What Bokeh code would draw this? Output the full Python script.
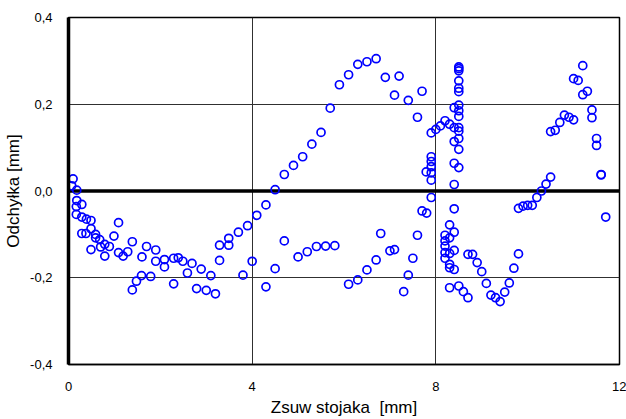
from bokeh.plotting import figure
from bokeh.models import FixedTicker, Span, Range1d
from bokeh.embed import file_html
from bokeh.resources import INLINE

# data: Zsuw stojaka [mm] vs Odchyłka [mm]
x = [0.07, 0.10, 0.18, 0.18, 0.17, 0.17, 0.29, 0.29, 0.29, 0.38, 0.39, 0.49, 0.49, 0.49,
     0.59, 0.59, 0.68, 0.70, 0.79, 0.79, 0.89, 0.99, 1.09, 1.09, 1.19, 1.29, 1.39, 1.39,
     1.48, 1.59, 1.60, 1.70, 1.79, 1.90, 1.90, 2.09, 2.09, 2.29, 2.29, 2.39, 2.49, 2.59,
     2.69, 2.79, 2.89, 3.00, 3.10, 3.20, 3.29, 3.29, 3.49, 3.49, 3.70, 3.80, 3.90, 4.00,
     4.10, 4.30, 4.30, 4.50, 4.50, 4.70, 4.70, 4.90, 5.00, 5.10, 5.20, 5.30, 5.40, 5.50,
     5.60, 5.70, 5.80, 5.90, 6.10, 6.10, 6.30, 6.30, 6.50, 6.50, 6.70, 6.70, 6.80, 6.90,
     7.00, 7.10, 7.10, 7.20, 7.30, 7.40, 7.40, 7.50, 7.60, 7.60, 7.70, 7.70, 7.80, 7.79,
     7.90, 7.90, 7.90, 7.90, 7.90, 7.90, 7.90, 8.00, 8.10, 8.20, 8.20, 8.20, 8.20, 8.20,
     8.20, 8.30, 8.30, 8.30, 8.30, 8.30, 8.30, 8.30, 8.40, 8.40, 8.40, 8.40, 8.40, 8.40,
     8.40, 8.40, 8.40, 8.50, 8.50, 8.50, 8.50, 8.50, 8.50, 8.50, 8.50, 8.50, 8.50, 8.50,
     8.50, 8.50, 8.50, 8.50, 8.60, 8.70, 8.70, 8.80, 8.90, 9.00, 9.10, 9.20, 9.30, 9.40,
     9.50, 9.60, 9.70, 9.80, 9.80, 9.90, 10.00, 10.10, 10.20, 10.30, 10.40, 10.50, 10.50,
     10.60, 10.70, 10.80, 10.90, 11.00, 11.00, 11.10, 11.20, 11.20, 11.30, 11.40, 11.40,
     11.50, 11.50, 11.60, 11.60, 11.70]
y = [0.012, 0.028, 0.002, -0.022, -0.036, -0.054, -0.031, -0.060, -0.098, -0.098, -0.065,
     -0.068, -0.087, -0.135, -0.100, -0.108, -0.112, -0.129, -0.150, -0.123, -0.128, -0.104,
     -0.073, -0.142, -0.150, -0.140, -0.117, -0.228, -0.208, -0.195, -0.152, -0.128, -0.197,
     -0.136, -0.162, -0.158, -0.175, -0.155, -0.214, -0.154, -0.162, -0.189, -0.167, -0.225,
     -0.180, -0.229, -0.195, -0.237, -0.125, -0.160, -0.109, -0.125, -0.095, -0.194, -0.080,
     -0.162, -0.056, -0.032, -0.221, 0.003, -0.179, 0.038, -0.115, 0.059, -0.152, 0.079,
     -0.140, 0.108, -0.128, 0.135, -0.127, 0.191, -0.126, 0.245, 0.268, -0.215, 0.292,
     -0.205, 0.298, -0.182, 0.305, -0.159, -0.098, 0.262, -0.138, 0.221, -0.135, 0.265,
     -0.232, 0.209, -0.194, -0.155, 0.170, -0.102, 0.230, -0.046, -0.051, 0.044, 0.134,
     0.079, 0.068, 0.056, 0.042, 0.025, -0.015, 0.142, 0.150, 0.162, -0.102, -0.115, -0.127,
     -0.142, -0.155, 0.154, -0.078, -0.108, -0.144, -0.169, -0.177, -0.223, 0.192, 0.146,
     0.114, 0.064, 0.015, -0.041, -0.095, -0.137, -0.181, 0.286, 0.282, 0.277, 0.254, 0.237,
     0.229, 0.198, 0.185, 0.172, 0.146, 0.138, 0.121, 0.096, 0.054, -0.219, -0.232, -0.146,
     -0.246, -0.146, -0.165, -0.186, -0.213, -0.240, -0.246, -0.255, -0.233, -0.212, -0.178,
     -0.145, -0.040, -0.035, -0.033, -0.033, -0.015, 0.000, 0.016, 0.032, 0.137, 0.140,
     0.158, 0.175, 0.170, 0.164, 0.259, 0.255, 0.222, 0.289, 0.230, 0.187, 0.169, 0.121,
     0.105, 0.038, 0.037, -0.060]

x_ticks = [0, 4, 8, 12]
x_tick_labels = ["0", "4", "8", "12"]
y_ticks = [-0.4, -0.2, 0.0, 0.2, 0.4]
y_tick_labels = ["-0,4", "-0,2", "0,0", "0,2", "0,4"]

FONT = "Liberation Sans"

p = figure(width=626, height=419, output_backend="svg", toolbar_location=None,
           x_range=Range1d(0, 12), y_range=Range1d(-0.4, 0.4),
           min_border_left=68, min_border_right=7, min_border_top=17, min_border_bottom=55)
p.background_fill_color = "white"
p.border_fill_color = "white"
p.outline_line_color = "black"
p.outline_line_width = 1.5

p.xaxis.ticker = FixedTicker(ticks=x_ticks)
p.yaxis.ticker = FixedTicker(ticks=y_ticks)
p.xaxis.major_label_overrides = {t: l for t, l in zip(x_ticks, x_tick_labels)}
p.yaxis.major_label_overrides = {t: l for t, l in zip(y_ticks, y_tick_labels)}

for ax in (p.xaxis, p.yaxis):
    ax.major_tick_line_color = None
    ax.minor_tick_line_color = None
    ax.major_label_text_font = FONT
    ax.major_label_text_font_size = "13px"
    ax.major_label_text_color = "black"
    ax.axis_label_text_font = FONT
    ax.axis_label_text_font_style = "normal"
    ax.axis_label_text_color = "black"
    ax.axis_line_color = "black"

p.yaxis.axis_line_width = 3.5
p.xaxis.axis_line_width = 1.5
p.xaxis.axis_label = "Zsuw stojaka\u00a0 [mm]"
p.yaxis.axis_label = "Odchyłka [mm]"
p.xaxis.axis_label_text_font_size = "17px"
p.yaxis.axis_label_text_font_size = "17px"
p.xaxis.major_label_standoff = 11
p.yaxis.major_label_standoff = 10
p.xaxis.axis_label_standoff = 4
p.yaxis.axis_label_standoff = 4

p.xgrid.grid_line_color = "#303030"
p.ygrid.grid_line_color = "#303030"
p.xgrid.grid_line_width = 1
p.ygrid.grid_line_width = 1

zero = Span(location=0, dimension="width", line_color="black", line_width=3.5, level="underlay")
p.add_layout(zero)

p.scatter(x, y, marker="circle", size=8, fill_color=None, line_color="#0000ff", line_width=1.7)

open("out.html", "w").write(file_html(p, INLINE))
